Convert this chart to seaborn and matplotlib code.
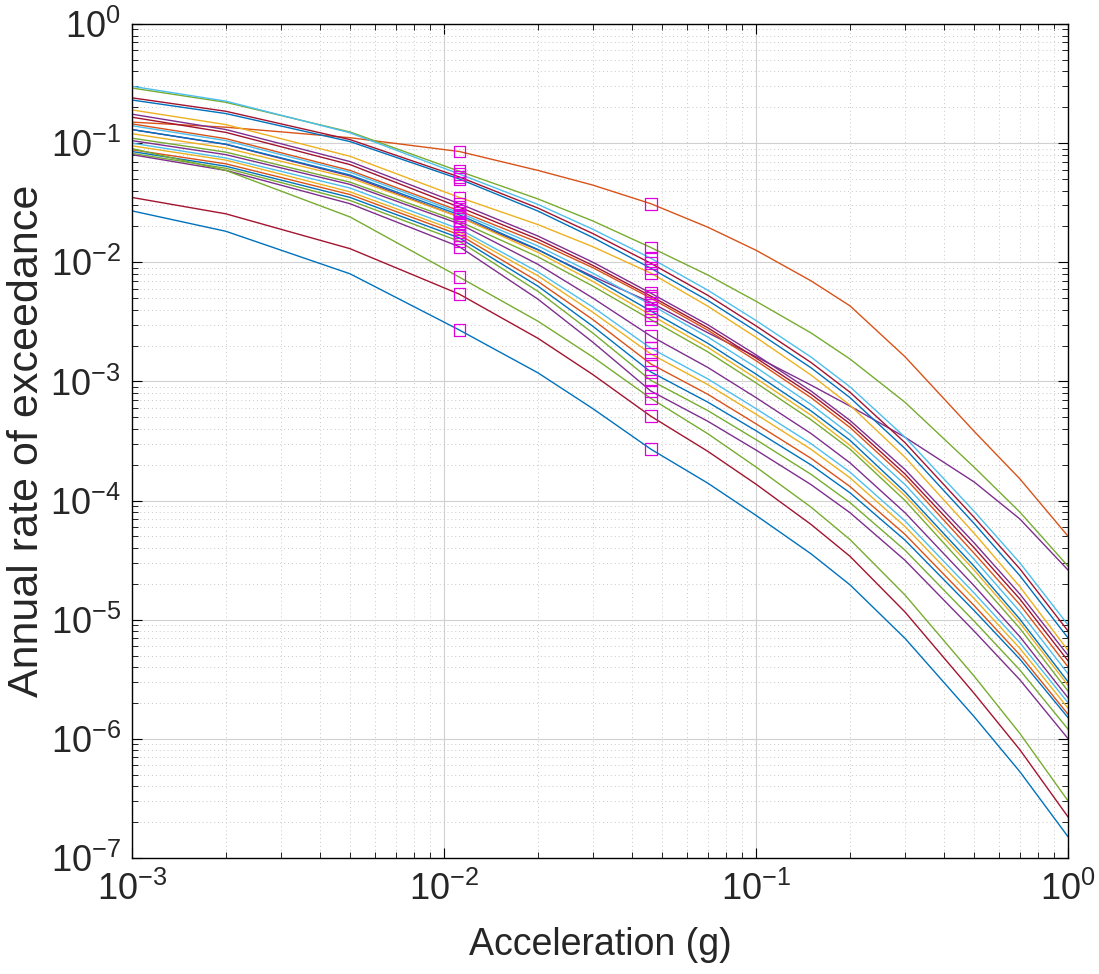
import numpy as np
import pandas as pd
import matplotlib
matplotlib.use("Agg")
import matplotlib.pyplot as plt
import seaborn as sns
from matplotlib.ticker import LogLocator, NullFormatter

# ---------------- data ----------------
accel = [0.001, 0.002, 0.005, 0.0112, 0.02, 0.03, 0.046, 0.07, 0.1, 0.15, 0.2, 0.3, 0.5, 0.7, 1.0]

hazard_01 = [0.15, 0.136, 0.111, 0.085, 0.059, 0.0444, 0.031, 0.0197, 0.0126, 0.00698, 0.0043, 0.00161, 3.8e-4, 1.52e-4, 5e-5]
hazard_02 = [0.29, 0.22, 0.124, 0.058, 0.034, 0.0222, 0.0133, 0.00782, 0.0047, 0.00255, 0.00154, 6.68e-4, 1.9e-4, 8.0e-5, 2.8e-5]
hazard_03 = [0.13, 0.0975, 0.053, 0.024, 0.0127, 0.0076, 0.0046, 0.00256, 0.00161, 9.3e-4, 6.2e-4, 3.4e-4, 1.43e-4, 7.0e-5, 2.6e-5]
hazard_04 = [0.30, 0.225, 0.122, 0.055, 0.0306, 0.0189, 0.0108, 0.00583, 0.00324, 0.0016, 9.0e-4, 3.4e-4, 8.1e-5, 3.0e-5, 9e-6]
hazard_05 = [0.24, 0.185, 0.107, 0.052, 0.0285, 0.0174, 0.0098, 0.00528, 0.00292, 0.00144, 8.1e-4, 3.06e-4, 7.2e-5, 2.67e-5, 8e-6]
hazard_06 = [0.23, 0.177, 0.103, 0.050, 0.0269, 0.0161, 0.0089, 0.00478, 0.00264, 0.0013, 7.3e-4, 2.73e-4, 6.4e-5, 2.34e-5, 7e-6]
hazard_07 = [0.19, 0.143, 0.0775, 0.035, 0.0207, 0.0135, 0.0081, 0.00428, 0.00234, 0.00113, 6.3e-4, 2.31e-4, 5.3e-5, 1.89e-5, 5.5e-6]
hazard_08 = [0.175, 0.130, 0.070, 0.031, 0.0166, 0.0100, 0.0055, 0.00299, 0.00167, 8.3e-4, 4.7e-4, 1.82e-4, 4.4e-5, 1.64e-5, 5e-6]
hazard_09 = [0.165, 0.123, 0.066, 0.029, 0.0156, 0.0094, 0.0052, 0.00282, 0.00157, 7.8e-4, 4.4e-4, 1.67e-4, 4.0e-5, 1.49e-5, 4.5e-6]
hazard_10 = [0.145, 0.109, 0.059, 0.027, 0.0147, 0.0090, 0.0050, 0.00269, 0.00149, 7.3e-4, 4.1e-4, 1.55e-4, 3.6e-5, 1.34e-5, 4e-6]
hazard_11 = [0.14, 0.105, 0.057, 0.026, 0.0137, 0.0081, 0.0044, 0.00236, 0.00131, 6.4e-4, 3.6e-4, 1.36e-4, 3.2e-5, 1.17e-5, 3.5e-6]
hazard_12 = [0.13, 0.098, 0.054, 0.025, 0.0128, 0.0074, 0.0039, 0.00209, 0.00115, 5.65e-4, 3.2e-4, 1.18e-4, 2.8e-5, 1.01e-5, 3e-6]
hazard_13 = [0.12, 0.091, 0.051, 0.024, 0.0121, 0.0069, 0.0036, 0.00193, 0.00106, 5.2e-4, 2.9e-4, 1.1e-4, 2.6e-5, 9.4e-6, 2.8e-6]
hazard_14 = [0.11, 0.084, 0.047, 0.022, 0.0111, 0.0063, 0.0033, 0.00177, 9.7e-4, 4.76e-4, 2.7e-4, 1.0e-4, 2.3e-5, 8.45e-6, 2.5e-6]
hazard_15 = [0.105, 0.080, 0.045, 0.021, 0.0096, 0.0050, 0.0024, 0.00131, 7.3e-4, 3.65e-4, 2.07e-4, 7.9e-5, 1.92e-5, 7.2e-6, 2.2e-6]
hazard_16 = [0.10, 0.075, 0.042, 0.019, 0.0083, 0.0042, 0.0019, 0.00105, 5.9e-4, 3.0e-4, 1.73e-4, 6.75e-5, 1.67e-5, 6.4e-6, 2e-6]
hazard_17 = [0.095, 0.072, 0.039, 0.018, 0.0077, 0.0038, 0.0017, 9.4e-4, 5.3e-4, 2.69e-4, 1.55e-4, 6.05e-5, 1.5e-5, 5.75e-6, 1.8e-6]
hazard_18 = [0.088, 0.067, 0.037, 0.017, 0.0069, 0.0033, 0.0014, 7.8e-4, 4.4e-4, 2.26e-4, 1.31e-4, 5.2e-5, 1.31e-5, 5.06e-6, 1.6e-6]
hazard_19 = [0.085, 0.064, 0.035, 0.016, 0.0063, 0.0029, 0.0012, 6.7e-4, 3.85e-4, 1.99e-4, 1.16e-4, 4.65e-5, 1.19e-5, 4.67e-6, 1.5e-6]
hazard_20 = [0.082, 0.0615, 0.033, 0.015, 0.0057, 0.00254, 0.00102, 5.69e-4, 3.24e-4, 1.66e-4, 9.6e-5, 3.83e-5, 9.7e-6, 3.78e-6, 1.2e-6]
hazard_21 = [0.08, 0.059, 0.031, 0.0135, 0.0049, 0.00213, 8.3e-4, 4.63e-4, 2.65e-4, 1.36e-4, 7.9e-5, 3.15e-5, 8.0e-6, 3.13e-6, 1e-6]
hazard_22 = [0.09, 0.059, 0.024, 0.0075, 0.0032, 0.0016, 7.2e-4, 3.64e-4, 1.91e-4, 8.8e-5, 4.7e-5, 1.61e-5, 3.35e-6, 1.11e-6, 3e-7]
hazard_23 = [0.035, 0.0255, 0.013, 0.0054, 0.0023, 0.00114, 5.1e-4, 2.59e-4, 1.37e-4, 6.3e-5, 3.4e-5, 1.16e-5, 2.4e-6, 8.1e-7, 2.2e-7]
hazard_24 = [0.027, 0.0182, 0.0080, 0.0027, 0.00118, 5.9e-4, 2.7e-4, 1.4e-4, 7.5e-5, 3.57e-5, 1.96e-5, 6.97e-6, 1.53e-6, 5.3e-7, 1.5e-7]

marker_accel = [0.0112, 0.046]

x_ticks = [1e-3, 1e-2, 1e-1, 1e0]
y_ticks = [1e-7, 1e-6, 1e-5, 1e-4, 1e-3, 1e-2, 1e-1, 1e0]
x_label = "Acceleration (g)"
y_label = "Annual rate of exceedance"

# ---------------- style ----------------
mat_blue, mat_orange, mat_yellow = "#0072BD", "#D95319", "#EDB120"
mat_purple, mat_green, mat_lblue, mat_red = "#7E2F8E", "#77AC30", "#4DBEEE", "#A2142F"
curve_colors = [mat_orange, mat_green, mat_purple, mat_lblue, mat_red, mat_blue,
                mat_yellow, mat_purple, mat_red, mat_orange, mat_lblue, mat_blue,
                mat_yellow, mat_green, mat_purple, mat_lblue, mat_yellow, mat_orange,
                mat_blue, mat_green, mat_purple, mat_green, mat_red, mat_blue]

curves = [hazard_01, hazard_02, hazard_03, hazard_04, hazard_05, hazard_06,
          hazard_07, hazard_08, hazard_09, hazard_10, hazard_11, hazard_12,
          hazard_13, hazard_14, hazard_15, hazard_16, hazard_17, hazard_18,
          hazard_19, hazard_20, hazard_21, hazard_22, hazard_23, hazard_24]

rows = []
mrows = []
for i, c in enumerate(curves):
    for a, v in zip(accel, c):
        rows.append({"curve": f"c{i:02d}", "accel": a, "rate": v})
        if a in marker_accel:
            mrows.append({"curve": f"c{i:02d}", "accel": a, "rate": v})
df = pd.DataFrame(rows)
mk = pd.DataFrame(mrows)

sns.set_theme(style="ticks")
plt.rcParams["font.family"] = ["Liberation Sans", "DejaVu Sans"]
plt.rcParams["mathtext.default"] = "regular"

fig = plt.figure(figsize=(10.99, 9.74), dpi=100)
ax = fig.add_axes([0.120, 0.1191, 0.852, 0.8563])
ax.set_xscale("log")
ax.set_yscale("log")

sns.lineplot(data=df, x="accel", y="rate", hue="curve", palette=curve_colors,
             estimator=None, sort=False, legend=False, linewidth=1.0, ax=ax)
sns.scatterplot(data=mk, x="accel", y="rate", marker="s", s=70,
                legend=False, ax=ax, zorder=5)
coll = ax.collections[-1]
coll.set_facecolor("none")
coll.set_edgecolor("#E000E0")
coll.set_linewidth(0.9)

ax.set_xlim(1e-3, 1)
ax.set_ylim(1e-7, 1)
ax.set_xticks(x_ticks)
ax.set_yticks(y_ticks)
ax.xaxis.set_minor_locator(LogLocator(base=10, subs=np.arange(2, 10), numticks=20))
ax.yaxis.set_minor_locator(LogLocator(base=10, subs=np.arange(2, 10), numticks=20))
ax.xaxis.set_minor_formatter(NullFormatter())
ax.yaxis.set_minor_formatter(NullFormatter())

ax.set_axisbelow(True)
ax.grid(which="major", color="#d0d0d0", linewidth=0.8, linestyle="-")
ax.grid(which="minor", color="#c8c8c8", linewidth=0.7, linestyle=(0, (1, 3)))

ax.tick_params(which="both", direction="in", top=True, right=True, colors="black",
               labelcolor="#262626")
ax.tick_params(which="major", length=7, width=0.8, labelsize=26)
ax.tick_params(axis="x", which="major", pad=10)
ax.tick_params(axis="y", which="major", pad=8)
ax.tick_params(which="minor", length=4, width=0.6)
for s in ax.spines.values():
    s.set_color("black")
    s.set_linewidth(1.0)

ax.set_xlabel(x_label, fontsize=27, color="#262626", va="center")
ax.set_ylabel(y_label, fontsize=31, color="#262626", va="center")
ax.xaxis.set_label_coords(0.5, -0.104)
ax.yaxis.set_label_coords(-0.112, 0.5)

fig.savefig("out.png", dpi=100)
